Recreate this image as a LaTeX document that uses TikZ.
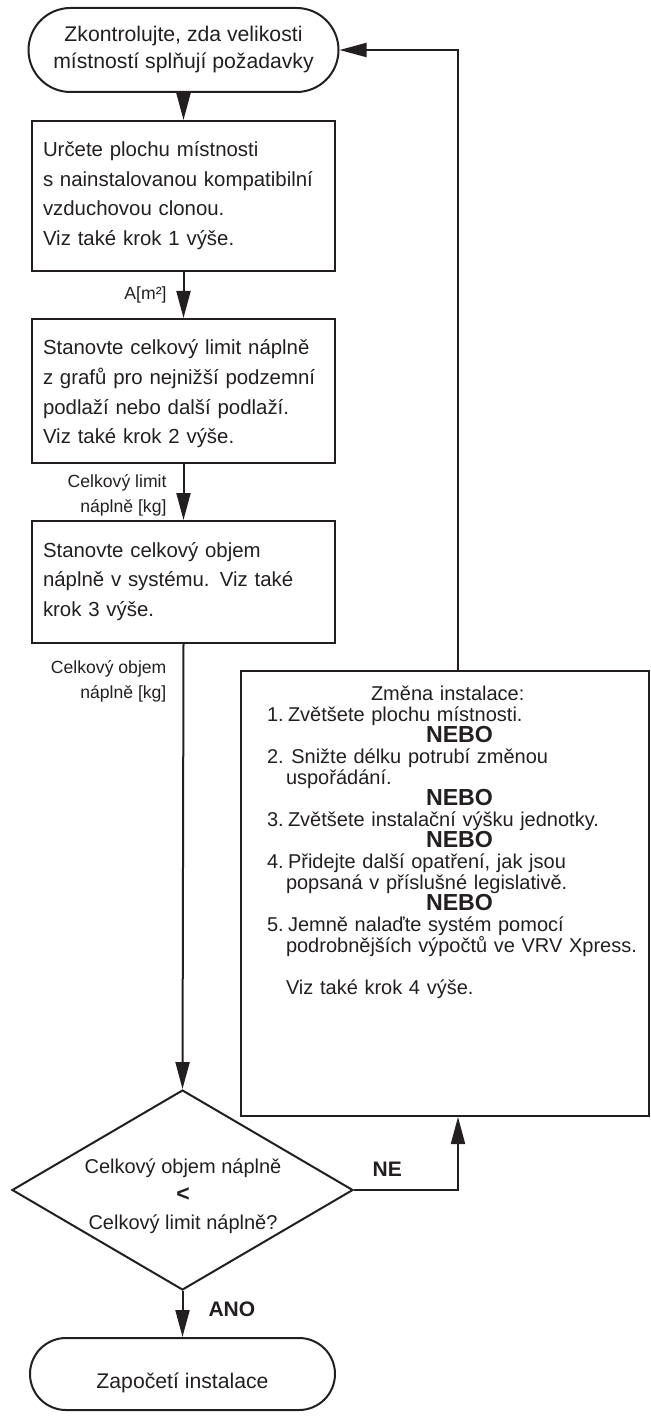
\documentclass[tikz,border=0pt]{standalone}
\usepackage{fontspec}
\setmainfont{Liberation Sans}
\usepackage{xcolor}
\usetikzlibrary{arrows.meta}
\usetikzlibrary{shapes.misc}
\usetikzlibrary{shapes.geometric}
\definecolor{ink}{HTML}{231F20}
\newcommand{\nebo}{{\fontsize{11.6}{10.5}\selectfont\bfseries NEBO}}
\newcommand{\num}[1]{\makebox[10.5pt][l]{#1}}

\begin{document}
\begin{tikzpicture}[x=0.5pt, y=-0.5pt, line width=1pt, color=ink,
  font=\fontsize{10.2}{14.75}\selectfont,
  term/.style={rounded rectangle, draw, align=center, inner sep=0pt,
    font=\fontsize{10.6}{13.5}\selectfont},
  box/.style={rectangle, draw, minimum width=151.5pt, inner sep=0pt},
  boxtext/.style={anchor=base west, align=left, text width=150pt, inner sep=0pt},
  flow/.style={-{Triangle[length=13.5pt,width=7pt]}},
  lbl/.style={anchor=east, align=right, inner sep=0pt, xshift=-8pt,
    font=\fontsize{8.8}{12.5}\selectfont},
  yesno/.style={inner sep=0pt, font=\fontsize{10.5}{12}\selectfont\bfseries}]
  \useasboundingbox (0,0) rectangle (650,1417);

  % main column
  \node[term, minimum width=155pt, minimum height=42pt] (start) at (183.5,50) {Zkontrolujte, zda velikosti\\místností splňují požadavky};
  \node[box, minimum height=75pt, anchor=north] (b1) at (183.5,120) {};
  \node[boxtext] (t1) at (42,157) {Určete plochu místnosti\\s nainstalovanou kompatibilní\\vzduchovou clonou.\\Viz také krok 1 výše.};
  \node[box, minimum height=72pt, anchor=north] (b2) at (183.5,318) {};
  \node[boxtext] (t2) at (42,355) {Stanovte celkový limit náplně\\z grafů pro nejnižší podzemní\\podlaží nebo další podlaží.\\Viz také krok 2 výše.};
  \node[box, minimum height=61pt, anchor=north] (b3) at (183.5,520) {};
  \node[boxtext] (t3) at (42,557) {Stanovte celkový objem\\náplně v systému. Viz také\\krok 3 výše.};
  \node[diamond, draw, minimum width=170.5pt, minimum height=100pt, inner sep=0pt] (dec) at (182.5,1190) {};
  \node[align=center, font=\fontsize{10}{14}\selectfont] (q) at (183,1196) {Celkový objem náplně\\{\bfseries\fontsize{11.5}{14}\selectfont <}\\Celkový limit náplně?};
  \node[term, minimum width=152.5pt, minimum height=36pt, text height=14.5pt, text depth=0pt] (stop) at (182.5,1374) {Započetí instalace};

  % change box
  \node[box, minimum width=204pt, minimum height=222.5pt, anchor=north west] (chg) at (240,670) {};
  \node[boxtext, text width=200pt, font=\fontsize{10}{10.5}\selectfont] (ct) at (266,700) {%
    \hspace*{52pt}Změna instalace:\\
    \num{1.}Zvětšete plochu místnosti.\\
    \hspace*{79.5pt}\nebo\\
    \num{2.}\,Snižte délku potrubí změnou\\
    \hspace*{9.5pt}uspořádání.\\
    \hspace*{79.5pt}\nebo\\
    \num{3.}Zvětšete instalační výšku jednotky.\\
    \hspace*{79.5pt}\nebo\\
    \num{4.}Přidejte další opatření, jak jsou\\
    \hspace*{9.5pt}popsaná v příslušné legislativě.\\
    \hspace*{79.5pt}\nebo\\
    \num{5.}Jemně nalaďte systém pomocí\\
    \hspace*{9.5pt}podrobnějších výpočtů ve VRV Xpress.\\[10.5pt]
    \hspace*{9.5pt}Viz také krok 4 výše.};
  \coordinate (fb) at (458,0);

  % connectors
  \draw[flow] (start.south) -- (b1.north);
  \draw[flow] (b1.south) -- node[lbl] (la) {A[m²]} (b2.north);
  \draw[flow] (b2.south) -- node[lbl, pos=0.56] (lb) {Celkový limit\\náplně [kg]} (b3.north);
  \draw[flow] (b3.south) -- node[lbl, pos=0.083] (lc) {Celkový objem\\náplně [kg]} (dec.north);
  \draw[flow] (dec.south) -- node[yesno, pos=0.4, anchor=west, xshift=12.5pt] (ano) {ANO} (stop.north);
  \draw[flow] (dec.east) -| node[yesno, pos=0.16, yshift=10.5pt] (ne) {NE} (fb |- chg.south);
  \draw[flow] (fb |- chg.north) |- (start.east);
\end{tikzpicture}
\end{document}
